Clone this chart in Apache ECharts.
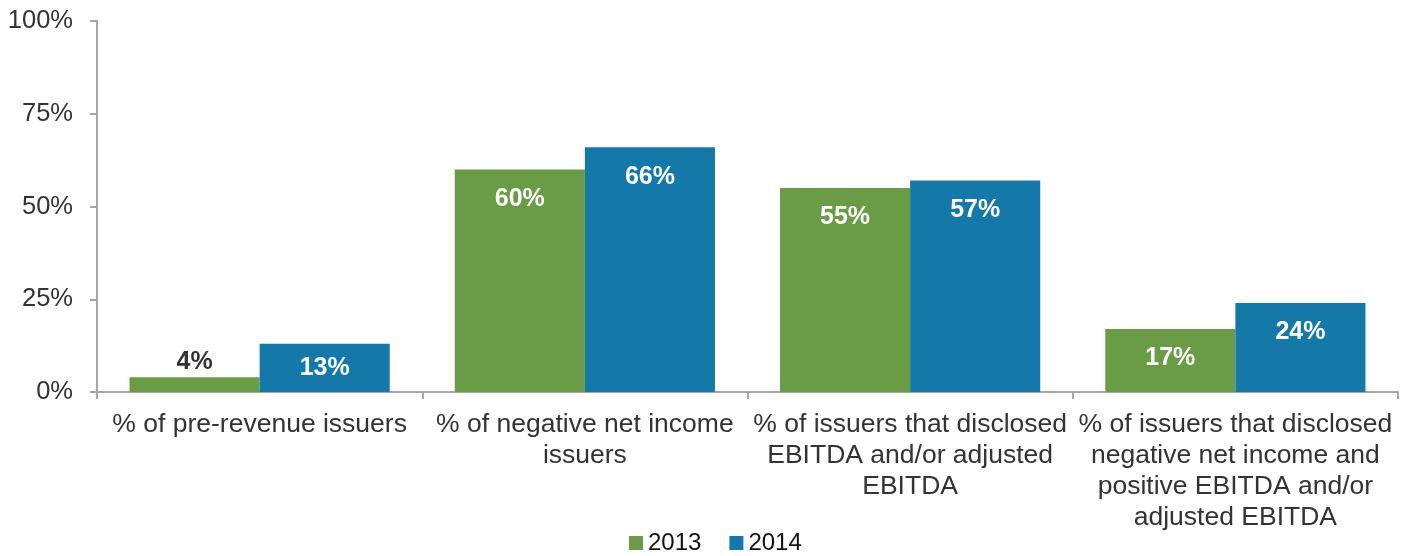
<!DOCTYPE html>
<html>
<head>
<meta charset="utf-8">
<script src="https://cdn.jsdelivr.net/npm/echarts@6/dist/echarts.min.js"></script>
<style>
  html, body { margin: 0; padding: 0; background: #fff; }
  #chart { width: 1411px; height: 556px; }
</style>
</head>
<body>
<div id="chart"></div>
<script>
const categories = [
  '% of pre-revenue issuers',
  '% of negative net income\nissuers',
  '% of issuers that disclosed\nEBITDA and/or adjusted\nEBITDA',
  '% of issuers that disclosed\nnegative net income and\npositive EBITDA and/or\nadjusted EBITDA'
];
const values2013 = [4, 60, 55, 17];
const values2014 = [13, 66, 57, 24];
const yTicks = [0, 25, 50, 75, 100];

const chart = echarts.init(document.getElementById('chart'));

const font = 'Liberation Sans, Arial, sans-serif';
const axisGray = '#a6a6a6';

// small bars get their label outside / centered
const labelFor = (v) => {
  if (v < 8) {
    return { value: v, label: { position: 'top', distance: 3, color: '#333' } };
  }
  if (v < 15) {
    return { value: v, label: { position: 'inside' } };
  }
  return v;
};

const barLabel = {
  show: true,
  position: 'insideTop',
  distance: 17,
  color: '#fff',
  fontFamily: font,
  fontSize: 25,
  fontWeight: 'bold',
  formatter: '{c}%'
};

const option = {
  animation: false,
  grid: { left: 97, right: 13, top: 21, bottom: 164 },
  legend: {
    bottom: -4,
    left: 624,
    icon: 'rect',
    itemWidth: 14,
    itemHeight: 14,
    itemGap: 28,
    itemTextGap: 5,
    textStyle: { fontFamily: font, fontSize: 24, color: '#111' },
    data: ['2013', '2014']
  },
  xAxis: {
    type: 'category',
    data: categories,
    axisLine: { lineStyle: { color: axisGray, width: 2 } },
    axisTick: { show: true, length: 7, lineStyle: { color: axisGray, width: 2 } },
    axisLabel: {
      interval: 0,
      margin: 17,
      fontFamily: font,
      fontSize: 26.5,
      lineHeight: 31,
      color: '#333'
    }
  },
  yAxis: {
    type: 'value',
    min: 0,
    max: 100,
    interval: 25,
    splitLine: { show: false },
    axisLine: { show: true, lineStyle: { color: axisGray, width: 2 } },
    axisTick: { show: true, length: 7, lineStyle: { color: axisGray, width: 2 } },
    axisLabel: {
      margin: 24,
      fontFamily: font,
      fontSize: 25.5,
      color: '#333',
      formatter: (v) => (yTicks.includes(v) ? v + '%' : '')
    }
  },
  series: [
    {
      name: '2013',
      type: 'bar',
      data: values2013.map(labelFor),
      barWidth: '40%',
      barGap: '0%',
      itemStyle: { color: '#699c44' },
      label: barLabel
    },
    {
      name: '2014',
      type: 'bar',
      data: values2014.map(labelFor),
      barWidth: '40%',
      barGap: '0%',
      itemStyle: { color: '#1479a8' },
      label: barLabel
    }
  ]
};

chart.setOption(option);
window.addEventListener('resize', () => chart.resize());
</script>
</body>
</html>
